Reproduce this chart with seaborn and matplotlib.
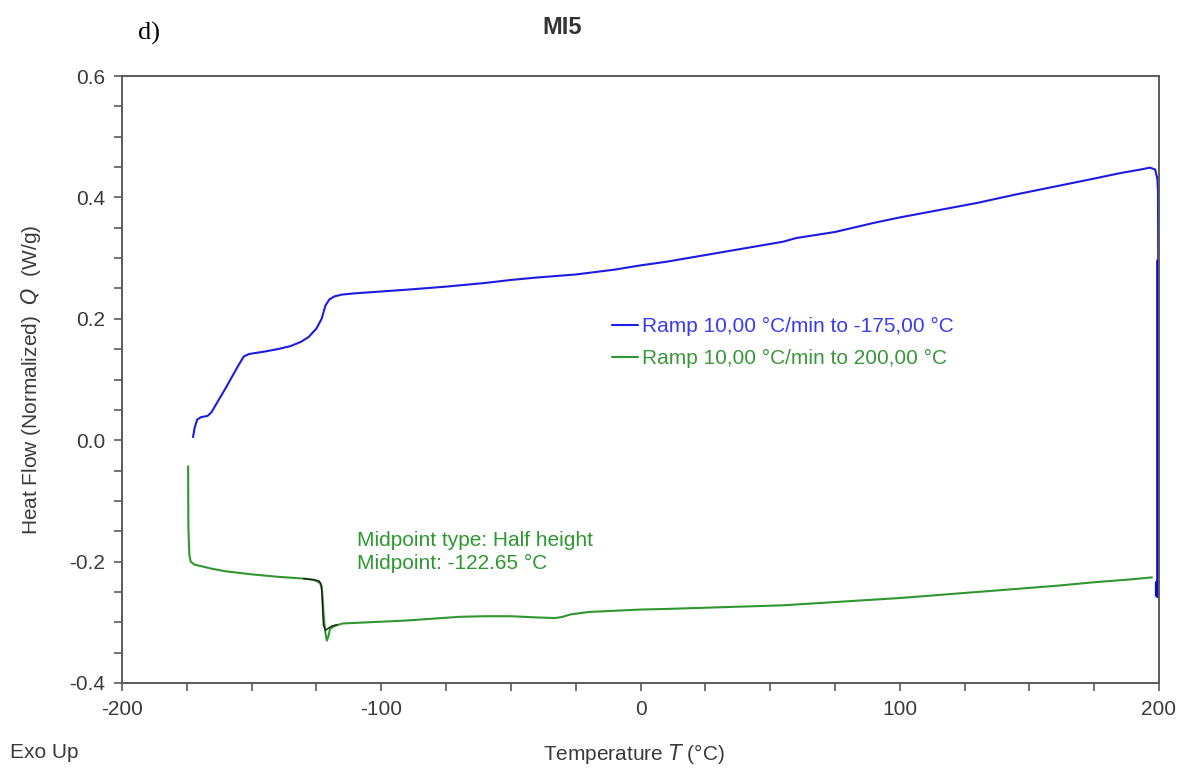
import matplotlib
matplotlib.use("Agg")
import matplotlib.pyplot as plt
import seaborn as sns
import pandas as pd
from matplotlib.ticker import MultipleLocator, FixedLocator

# ---------------- data ----------------
cool_T = [-172.6, -172.0, -171.0, -169.5, -167.0, -165.5, -160, -155, -153, -151, -145, -140,
          -135, -131, -128, -125, -123, -121.5, -120, -118, -115, -110, -100, -90, -75, -60,
          -50, -40, -25, -10, 0, 10, 25, 40, 55, 60, 75, 90, 100, 115, 130, 145, 160, 175,
          185, 193, 196.5, 198.5, 199.4, 199.6, 199.7]
cool_Q = [0.005, 0.020, 0.034, 0.038, 0.040, 0.046, 0.086, 0.124, 0.138, 0.142, 0.146, 0.150,
          0.155, 0.162, 0.170, 0.184, 0.200, 0.222, 0.232, 0.237, 0.240, 0.242, 0.245, 0.248,
          0.253, 0.259, 0.264, 0.268, 0.273, 0.281, 0.288, 0.294, 0.305, 0.316, 0.327, 0.333,
          0.343, 0.358, 0.367, 0.379, 0.391, 0.405, 0.418, 0.431, 0.440, 0.446, 0.449, 0.446,
          0.430, 0.410, 0.295]

iso_T = [199.7, 199.7]
iso_Q = [0.295, -0.255]
iso_end_T = [199.5, 199.5]
iso_end_Q = [-0.236, -0.255]

heat_T = [-174.5, -174.4, -174.0, -173.5, -172, -165, -160, -150, -140, -130, -126, -124,
          -123, -122.6, -122.2, -121.6, -121.0, -120.3, -119.8, -118, -115, -110, -100, -90,
          -80, -70, -60, -50, -40, -33, -30, -27, -20, -10, 0, 10, 25, 40, 55, 70, 85, 100,
          115, 130, 145, 160, 175, 190, 197.3]
heat_Q = [-0.043, -0.145, -0.190, -0.200, -0.205, -0.212, -0.216, -0.221, -0.225, -0.228,
          -0.230, -0.234, -0.240, -0.260, -0.290, -0.315, -0.330, -0.322, -0.311, -0.306,
          -0.302, -0.301, -0.299, -0.297, -0.294, -0.291, -0.290, -0.290, -0.292, -0.293,
          -0.291, -0.287, -0.283, -0.281, -0.279, -0.278, -0.276, -0.274, -0.272, -0.268,
          -0.264, -0.260, -0.255, -0.250, -0.245, -0.240, -0.234, -0.229, -0.226]

tg_T = [-130, -126, -124, -123.3, -122.9, -122.6, -122.3, -121.5, -120.5, -119, -117]
tg_Q = [-0.228, -0.230, -0.232, -0.236, -0.250, -0.280, -0.305, -0.313, -0.310, -0.306, -0.304]

series_labels = ["Ramp 10,00 °C/min to -175,00 °C", "Ramp 10,00 °C/min to 200,00 °C"]
x_ticks = [-200, -100, 0, 100, 200]
x_tick_labels = ["-200", "-100", "0", "100", "200"]
y_ticks = [-0.4, -0.2, 0.0, 0.2, 0.4, 0.6]
y_tick_labels = ["-0.4", "-0.2", "0.0", "0.2", "0.4", "0.6"]
midpoint_text = "Midpoint type: Half height\nMidpoint: -122.65 °C"

# ---------------- style ----------------
sns.set_style("ticks")
plt.rcParams["font.family"] = ["Liberation Sans", "DejaVu Sans"]
plt.rcParams["axes.unicode_minus"] = False

BLUE = "#1c1ce0"
GREEN = "#2f972f"
SPINE = "#5a5a5a"
TXT = "#3a3a3a"
FS = 15

fig = plt.figure(figsize=(11.84, 7.69), dpi=100)
ax = fig.add_axes([122 / 1184, 1 - 683 / 769, (1159 - 122) / 1184, (683 - 76) / 769])

df_cool = pd.DataFrame({"T": cool_T, "Q": cool_Q})
df_iso = pd.DataFrame({"T": iso_T, "Q": iso_Q})
df_iso_end = pd.DataFrame({"T": iso_end_T, "Q": iso_end_Q})
df_heat = pd.DataFrame({"T": heat_T, "Q": heat_Q})
df_tg = pd.DataFrame({"T": tg_T, "Q": tg_Q})

sns.lineplot(data=df_cool, x="T", y="Q", sort=False, estimator=None, color=BLUE,
             linewidth=1.5, ax=ax, label=series_labels[0])
sns.lineplot(data=df_iso, x="T", y="Q", sort=False, estimator=None, color="#0a0ad0",
             linewidth=2.6, ax=ax, label="_nolegend_")
sns.lineplot(data=df_iso_end, x="T", y="Q", sort=False, estimator=None, color="#0a0ad0",
             linewidth=4.5, ax=ax, label="_nolegend_")
sns.lineplot(data=df_heat, x="T", y="Q", sort=False, estimator=None, color=GREEN,
             linewidth=1.5, ax=ax, label=series_labels[1])
sns.lineplot(data=df_tg, x="T", y="Q", sort=False, estimator=None, color="#1a1a1a",
             linewidth=1.0, ax=ax, label="_nolegend_")

ax.set_xlim(-200, 200)
ax.set_ylim(-0.4, 0.6)
ax.xaxis.set_major_locator(FixedLocator(x_ticks))
ax.set_xticklabels(x_tick_labels)
ax.xaxis.set_minor_locator(MultipleLocator(25))
ax.yaxis.set_major_locator(FixedLocator(y_ticks))
ax.set_yticklabels(y_tick_labels)
ax.yaxis.set_minor_locator(MultipleLocator(0.05))

for s in ax.spines.values():
    s.set_color(SPINE)
    s.set_linewidth(1.4)
ax.tick_params(which="both", direction="out", color=SPINE, width=1.2, labelsize=FS,
               labelcolor=TXT, top=False, right=False)
ax.tick_params(which="major", length=6, pad=6)
ax.tick_params(which="minor", length=6)

ax.set_xlabel("Temperature $\\mathit{T}$ (°C)", fontsize=FS, color=TXT)
ax.xaxis.set_label_coords(0.494, -0.098)
ax.set_ylabel("Heat Flow (Normalized)  $\\mathit{Q}$  (W/g)", fontsize=FS, color=TXT)
ax.yaxis.set_label_coords(-0.076, 0.5)

leg = ax.legend(loc="upper left", bbox_to_anchor=(0.4725, 0.603), frameon=False,
                fontsize=FS, handlelength=1.25, handletextpad=0.2, labelspacing=0.62,
                borderpad=0, borderaxespad=0, labelcolor=["#3a3aee", "#3a963a"])

ax.text(-109.4, -0.184, midpoint_text, color=GREEN, fontsize=FS, va="center",
        ha="left", linespacing=1.25)

fig.text(562 / 1184, 1 - 27 / 769, "MI5", ha="center", va="center", fontsize=17,
         fontweight="bold", color="#333333")
fig.text(138 / 1184, 1 - 33 / 769, "d)", ha="left", va="center", fontsize=19,
         family="Liberation Serif", color="black")
fig.text(10 / 1184, 1 - 752 / 769, "Exo Up", ha="left", va="center", fontsize=FS,
         color=TXT)

fig.savefig("out.png", dpi=100)
